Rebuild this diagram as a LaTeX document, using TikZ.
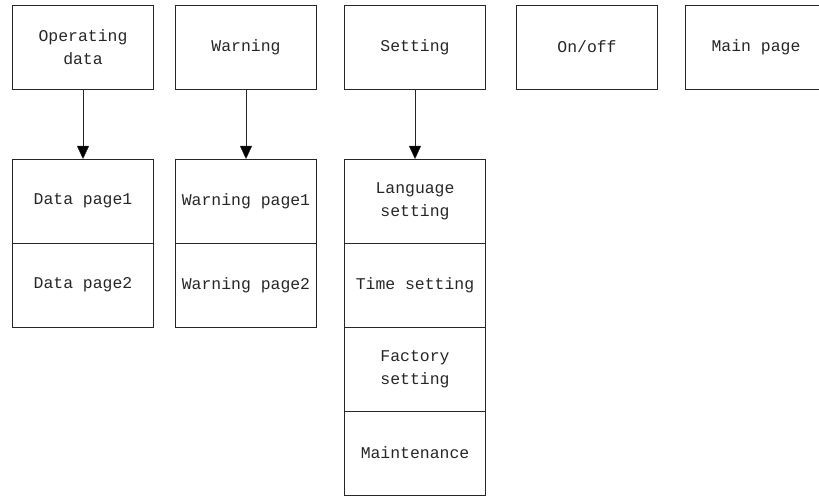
\documentclass[tikz,border=0pt]{standalone}
\usepackage{fontspec}
\setmonofont{Liberation Mono}
\usetikzlibrary{arrows.meta,positioning}

\begin{document}
\begin{tikzpicture}[->,>={Triangle[width=12bp,length=13bp]},x=1bp,y=1bp,thin]
            \tikzstyle{menu}=[draw=black!85,text=black!85,minimum width=141bp,minimum height=84bp,
                inner sep=0pt,outer sep=0pt,align=center,font=\ttfamily\fontsize{16.5}{23}\selectfont]
            \useasboundingbox (0,0) rectangle (819,-497);
            \node[menu] (oper)  at (83,-47)           {Operating\\data};
            \node[menu] (warn)  [right=22bp of oper]  {Warning};
            \node[menu] (sett)  [right=28bp of warn]  {Setting};
            \node[menu] (onoff) [right=31bp of sett]  {On/off};
            \node[menu] (mainp) [right=28bp of onoff] {Main page};
            \node[menu] (data1) [below=70bp of oper]  {Data page1};
            \node[menu] (data2) [below=0pt of data1]  {Data page2};
            \node[menu] (warn1) [below=70bp of warn]  {Warning page1};
            \node[menu] (warn2) [below=0pt of warn1]  {Warning page2};
            \node[menu] (lang)  [below=70bp of sett]  {Language\\setting};
            \node[menu] (time)  [below=0pt of lang]   {Time setting};
            \node[menu] (fact)  [below=0pt of time]   {Factory\\setting};
            \node[menu] (maint) [below=0pt of fact]   {Maintenance};
            \path[draw=black!85] (oper) edge (data1)
                (warn) edge (warn1)
                (sett) edge (lang);
        \end{tikzpicture}
\end{document}
